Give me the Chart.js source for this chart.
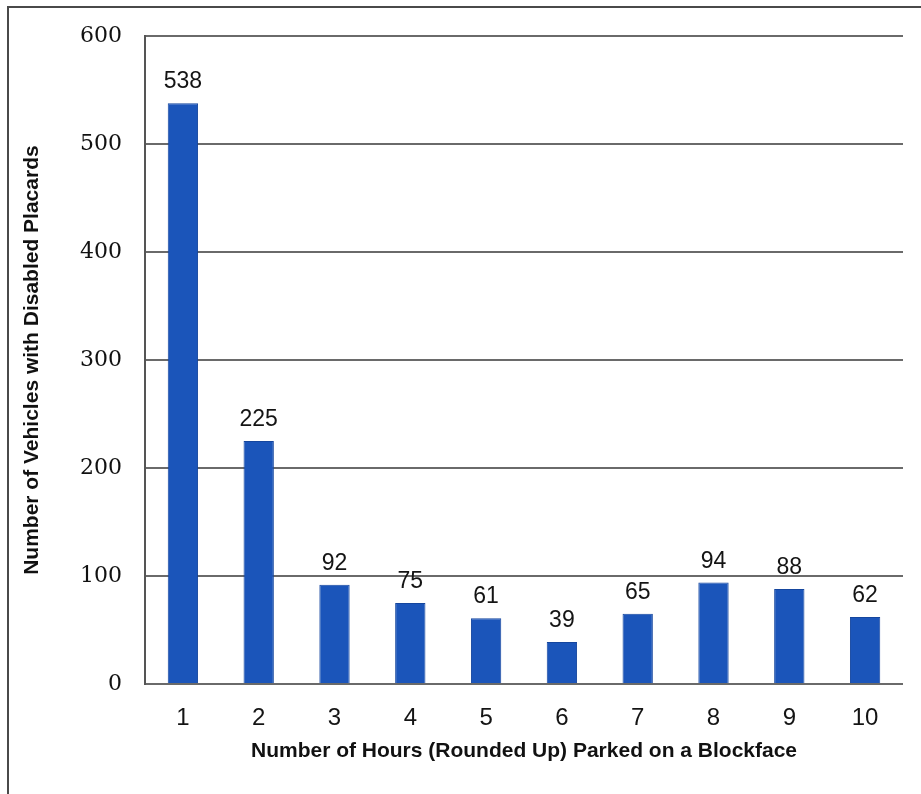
<!DOCTYPE html>
<html>
<head>
<meta charset="utf-8">
<script src="https://cdn.jsdelivr.net/npm/chart.js@4"></script>
<style>
  html, body { margin: 0; padding: 0; background: #ffffff; }
  #wrap { width: 921px; height: 794px; position: relative; }
</style>
</head>
<body>
<div id="wrap"><canvas id="c" width="921" height="794"></canvas></div>
<script>
const categories = ['1', '2', '3', '4', '5', '6', '7', '8', '9', '10'];
const vehicleCounts = [538, 225, 92, 75, 61, 39, 65, 94, 88, 62];
const yTicks = [0, 100, 200, 300, 400, 500, 600];
const xTitle = 'Number of Hours (Rounded Up) Parked on a Blockface';
const yTitle = 'Number of Vehicles with Disabled Placards';

const frame = {
  id: 'frame',
  beforeDraw(chart) {
    const ctx = chart.ctx;
    ctx.save();
    ctx.fillStyle = '#ffffff';
    ctx.fillRect(0, 0, chart.width, chart.height);
    ctx.strokeStyle = '#4a4a4a';
    ctx.lineWidth = 2;
    ctx.beginPath();
    ctx.moveTo(8, chart.height);
    ctx.lineTo(8, 7);
    ctx.lineTo(chart.width, 7);
    ctx.stroke();
    ctx.restore();
  }
};

const valueLabels = {
  id: 'valueLabels',
  afterDatasetsDraw(chart) {
    const ctx = chart.ctx;
    const meta = chart.getDatasetMeta(0);
    ctx.save();
    ctx.fillStyle = '#141414';
    ctx.font = '23px "Liberation Sans Narrow", "Liberation Sans", Arial, sans-serif';
    ctx.textAlign = 'center';
    ctx.textBaseline = 'alphabetic';
    meta.data.forEach((bar, i) => {
      ctx.fillText(String(chart.data.datasets[0].data[i]), bar.x, bar.y - 15);
    });
    ctx.restore();
  }
};

new Chart(document.getElementById('c'), {
  type: 'bar',
  data: {
    labels: categories,
    datasets: [{
      data: vehicleCounts,
      backgroundColor: '#1b55ba',
      borderColor: '#15469e',
      borderWidth: 1,
      barPercentage: 0.8,
      categoryPercentage: 0.5
    }]
  },
  options: {
    responsive: false,
    animation: false,
    layout: { padding: { top: 35, right: 18, bottom: 0, left: 0 } },
    plugins: {
      legend: { display: false },
      tooltip: { enabled: false }
    },
    scales: {
      x: {
        grid: { display: false, drawTicks: false },
        border: { display: false },
        ticks: {
          color: '#141414',
          padding: 20,
          font: { family: '"Liberation Sans Narrow", "Liberation Sans", Arial, sans-serif', size: 24 }
        },
        title: {
          display: true,
          text: xTitle,
          color: '#111111',
          font: { family: '"Liberation Sans", Arial, sans-serif', size: 21, weight: 'bold' },
          padding: { top: 0, bottom: 30 }
        },
        afterFit(scale) { scale.height = 110; }
      },
      y: {
        min: 0,
        max: 600,
        afterBuildTicks(scale) { scale.ticks = yTicks.map(v => ({ value: v })); },
        grid: { color: '#6a6a6a', lineWidth: 2, drawTicks: false },
        border: { display: true, color: '#555555', width: 2 },
        ticks: {
          color: '#111111',
          padding: 23,
          font: { family: '"DejaVu Serif", "Liberation Serif", serif', size: 22 }
        },
        title: {
          display: true,
          text: yTitle,
          color: '#111111',
          font: { family: '"Liberation Sans", Arial, sans-serif', size: 21, weight: 'bold' },
          padding: { top: 20, bottom: 0 }
        },
        afterFit(scale) { scale.width = 145; }
      }
    }
  },
  plugins: [frame, valueLabels]
});
</script>
</body>
</html>
